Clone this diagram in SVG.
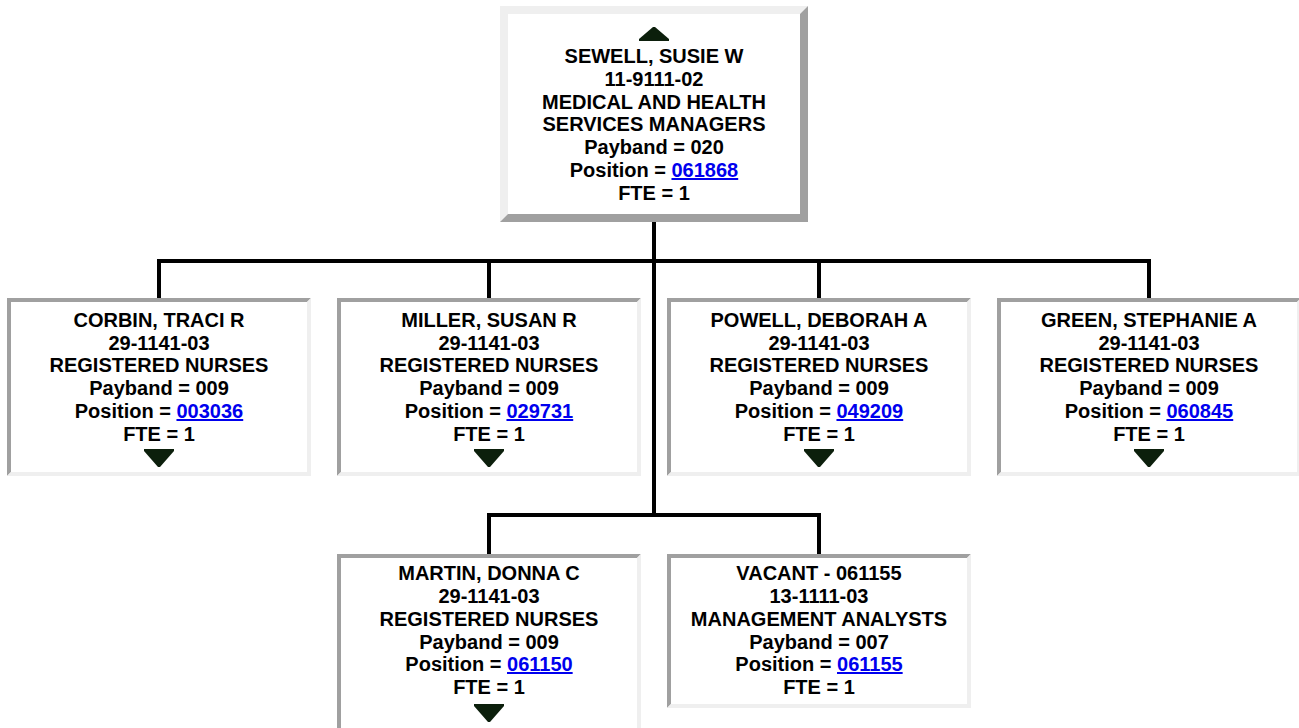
<svg xmlns="http://www.w3.org/2000/svg" width="1299" height="728" viewBox="0 0 1299 728">
<style>
.t{font-family:"Liberation Sans",Arial,sans-serif;font-weight:bold;font-size:20px;fill:#000;text-anchor:middle}
.lk{fill:#0000ee;text-decoration:underline}
.dk{fill:#a0a0a0}
.lt{fill:#efefef}
.bg{fill:#fff}
.tri{fill:#0c1f0c}
.cn{stroke:#000;stroke-width:4;fill:none;stroke-linecap:square}
</style>
<defs>
<g id="child">
<rect x="0" y="0" width="304" height="178" class="bg"/>
<polygon class="dk" points="0,0 304,0 300,4 4,4 4,174 0,178"/>
<polygon class="lt" points="304,0 304,178 0,178 4,174 300,174 300,4"/>
</g>
<polygon id="down" points="-15,0 15,0 15,2 1,18 -1,18 -15,2"/>
</defs>
<rect width="1299" height="728" fill="#fff"/>
<g id="connectors">
<path class="cn" d="M654 222 V515"/>
<path class="cn" d="M159 298 V261 H1149 V298"/>
<path class="cn" d="M489 261 V298"/>
<path class="cn" d="M819 261 V298"/>
<path class="cn" d="M489 554 V515 H819 V554"/>
</g>
<g id="sewell">
<rect x="500" y="6" width="308" height="216" class="bg"/>
<polygon class="lt" points="500,6 808,6 800,14 508,14 508,214 500,222"/>
<polygon class="dk" points="808,6 808,222 500,222 508,214 800,214 800,14"/>
<polygon class="tri" points="653,27 655,27 669,39 669,41 639,41 639,39"/>
<text class="t" x="654" y="63">SEWELL, SUSIE W</text>
<text class="t" x="654" y="86">11-9111-02</text>
<text class="t" x="654" y="109">MEDICAL AND HEALTH</text>
<text class="t" x="654" y="131">SERVICES MANAGERS</text>
<text class="t" x="654" y="154">Payband = 020</text>
<text class="t" x="654" y="177">Position = <tspan class="lk">061868</tspan></text>
<text class="t" x="654" y="200">FTE = 1</text>
</g>
<g id="corbin">
<use href="#child" x="7" y="298"/>
<text class="t" x="159" y="327">CORBIN, TRACI R</text>
<text class="t" x="159" y="350">29-1141-03</text>
<text class="t" x="159" y="372">REGISTERED NURSES</text>
<text class="t" x="159" y="395">Payband = 009</text>
<text class="t" x="159" y="418">Position = <tspan class="lk">003036</tspan></text>
<text class="t" x="159" y="441">FTE = 1</text>
<use href="#down" class="tri" x="159" y="449"/>
</g>
<g id="miller">
<use href="#child" x="337" y="298"/>
<text class="t" x="489" y="327">MILLER, SUSAN R</text>
<text class="t" x="489" y="350">29-1141-03</text>
<text class="t" x="489" y="372">REGISTERED NURSES</text>
<text class="t" x="489" y="395">Payband = 009</text>
<text class="t" x="489" y="418">Position = <tspan class="lk">029731</tspan></text>
<text class="t" x="489" y="441">FTE = 1</text>
<use href="#down" class="tri" x="489" y="449"/>
</g>
<g id="powell">
<use href="#child" x="667" y="298"/>
<text class="t" x="819" y="327">POWELL, DEBORAH A</text>
<text class="t" x="819" y="350">29-1141-03</text>
<text class="t" x="819" y="372">REGISTERED NURSES</text>
<text class="t" x="819" y="395">Payband = 009</text>
<text class="t" x="819" y="418">Position = <tspan class="lk">049209</tspan></text>
<text class="t" x="819" y="441">FTE = 1</text>
<use href="#down" class="tri" x="819" y="449"/>
</g>
<g id="green">
<use href="#child" x="997" y="298"/>
<text class="t" x="1149" y="327">GREEN, STEPHANIE A</text>
<text class="t" x="1149" y="350">29-1141-03</text>
<text class="t" x="1149" y="372">REGISTERED NURSES</text>
<text class="t" x="1149" y="395">Payband = 009</text>
<text class="t" x="1149" y="418">Position = <tspan class="lk">060845</tspan></text>
<text class="t" x="1149" y="441">FTE = 1</text>
<use href="#down" class="tri" x="1149" y="449"/>
</g>
<g id="martin">
<use href="#child" x="337" y="554"/>
<text class="t" x="489" y="580">MARTIN, DONNA C</text>
<text class="t" x="489" y="603">29-1141-03</text>
<text class="t" x="489" y="626">REGISTERED NURSES</text>
<text class="t" x="489" y="649">Payband = 009</text>
<text class="t" x="489" y="671">Position = <tspan class="lk">061150</tspan></text>
<text class="t" x="489" y="694">FTE = 1</text>
<use href="#down" class="tri" x="489" y="704"/>
</g>
<g id="vacant">
<rect x="667" y="554" width="304" height="154" class="bg"/>
<polygon class="dk" points="667,554 971,554 967,558 671,558 671,704 667,708"/>
<polygon class="lt" points="971,554 971,708 667,708 671,704 967,704 967,558"/>
<text class="t" x="819" y="580">VACANT - 061155</text>
<text class="t" x="819" y="603">13-1111-03</text>
<text class="t" x="819" y="626">MANAGEMENT ANALYSTS</text>
<text class="t" x="819" y="649">Payband = 007</text>
<text class="t" x="819" y="671">Position = <tspan class="lk">061155</tspan></text>
<text class="t" x="819" y="694">FTE = 1</text>
</g>
</svg>
